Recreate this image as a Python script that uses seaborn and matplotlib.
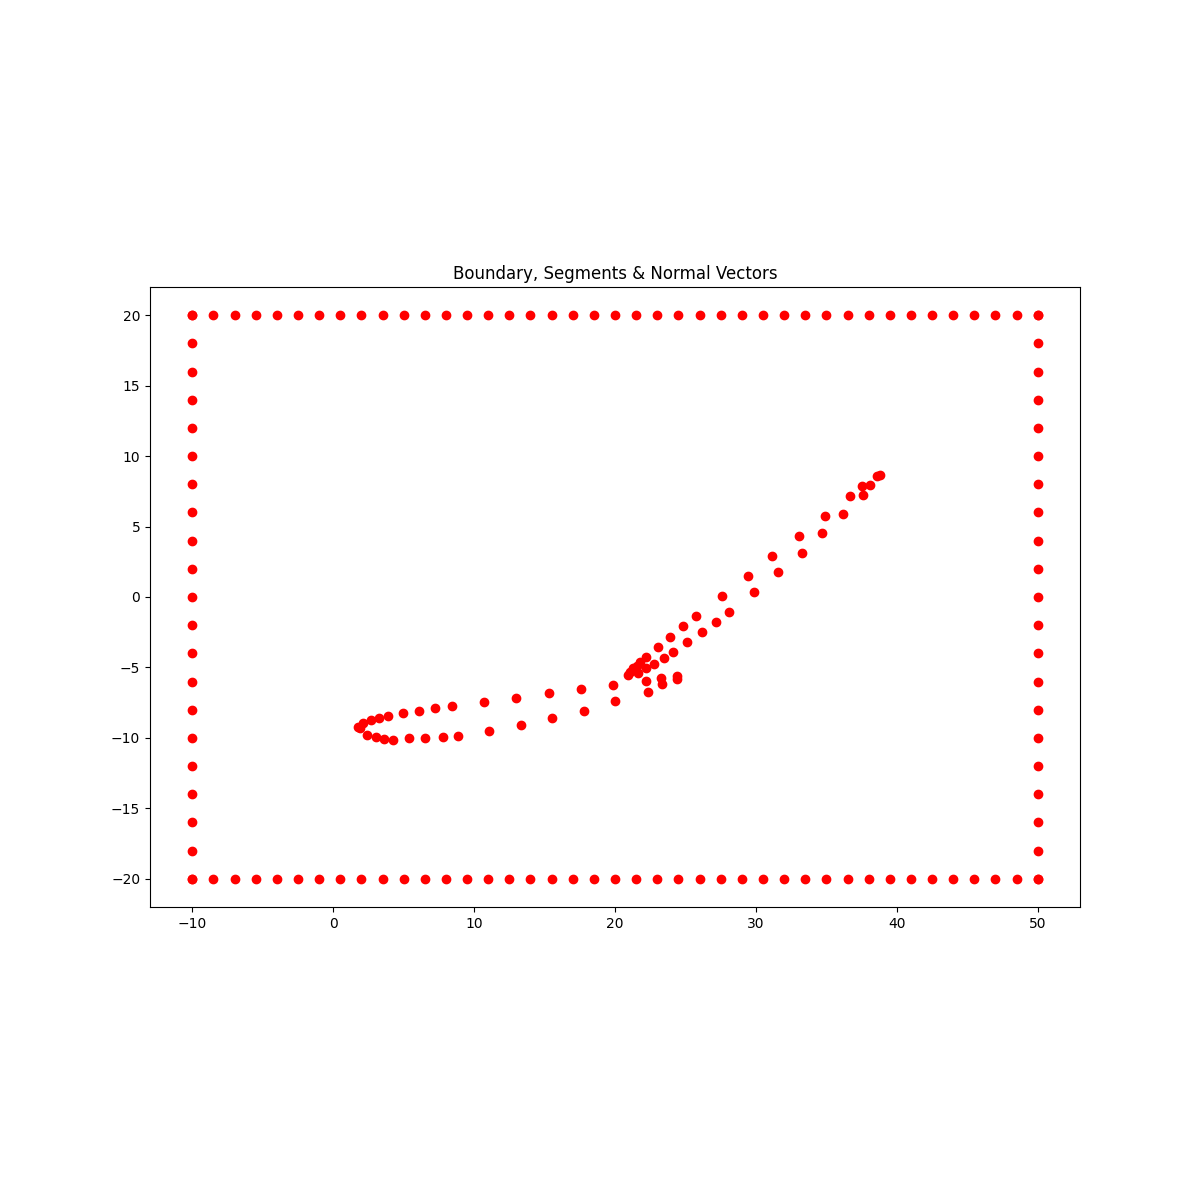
import matplotlib
matplotlib.use("Agg")
import matplotlib.pyplot as plt
import seaborn as sns

# Outer boundary points
edge_x = [-10, -8.5, -7, -5.5, -4, -2.5, -1, 0.5, 2, 3.5, 5, 6.5, 8, 9.5, 11, 12.5, 14,
          15.5, 17, 18.5, 20, 21.5, 23, 24.5, 26, 27.5, 29, 30.5, 32, 33.5, 35, 36.5,
          38, 39.5, 41, 42.5, 44, 45.5, 47, 48.5, 50]
edge_y = [-20, -18, -16, -14, -12, -10, -8, -6, -4, -2, 0, 2, 4, 6, 8, 10, 12, 14, 16, 18, 20]
x_min, x_max = -10, 50
y_min, y_max = -20, 20

# Body (segments) points
upper_x = [1.79, 2.15, 2.70, 3.28, 3.88, 4.99, 6.12, 7.26, 8.42, 10.71, 13.00, 15.34, 17.61, 19.88]
upper_y = [-9.24, -8.91, -8.72, -8.58, -8.46, -8.25, -8.09, -7.89, -7.75, -7.45, -7.18, -6.81, -6.55, -6.24]
lower_x = [1.91, 2.39, 3.05, 3.64, 4.28, 5.41, 6.55, 7.78, 8.87, 11.09, 13.33, 15.55, 17.82, 20.02]
lower_y = [-9.31, -9.79, -9.95, -10.05, -10.12, -10.02, -10.02, -9.95, -9.84, -9.52, -9.10, -8.58, -8.06, -7.40]
tail_up_x = [20.94, 21.06, 21.30, 21.54, 21.77, 22.20, 23.07, 23.90, 24.84, 25.74, 27.61, 29.45,
             31.11, 33.07, 34.92, 36.69, 37.56, 38.56, 38.79]
tail_up_y = [-5.53, -5.30, -5.06, -4.89, -4.59, -4.28, -3.57, -2.86, -2.08, -1.37, 0.05, 1.47,
             2.89, 4.30, 5.72, 7.16, 7.87, 8.58, 8.65]
tail_lo_x = [21.61, 22.20, 22.77, 23.50, 24.14, 25.13, 26.19, 27.16, 28.11, 29.88, 31.58, 33.24,
             34.70, 36.19, 37.61, 38.13]
tail_lo_y = [-5.37, -5.06, -4.75, -4.35, -3.92, -3.21, -2.50, -1.79, -1.09, 0.33, 1.75, 3.10,
             4.54, 5.89, 7.21, 7.92]
extra_x = [22.18, 22.32, 23.26, 23.33, 24.37, 24.42]
extra_y = [-5.96, -6.76, -5.77, -6.17, -5.58, -5.84]

# Build boundary coordinate lists from the named arrays
bx = edge_x + edge_x + [x_min] * len(edge_y) + [x_max] * len(edge_y)
by = [y_max] * len(edge_x) + [y_min] * len(edge_x) + edge_y + edge_y

fx = upper_x + lower_x + tail_up_x + tail_lo_x + extra_x
fy = upper_y + lower_y + tail_up_y + tail_lo_y + extra_y

fig = plt.figure(figsize=(12, 12), dpi=100)
ax = fig.add_axes([150 / 1200, 1 - 907 / 1200, 930 / 1200, 620 / 1200])

kw = dict(color="red", s=36, edgecolor="red", linewidth=1, ax=ax, legend=False)
sns.scatterplot(x=bx, y=by, **kw)
sns.scatterplot(x=fx, y=fy, **kw)

ax.set_title("Boundary, Segments & Normal Vectors")
ax.set_xlabel("")
ax.set_ylabel("")

fig.savefig("out.png", dpi=100)
